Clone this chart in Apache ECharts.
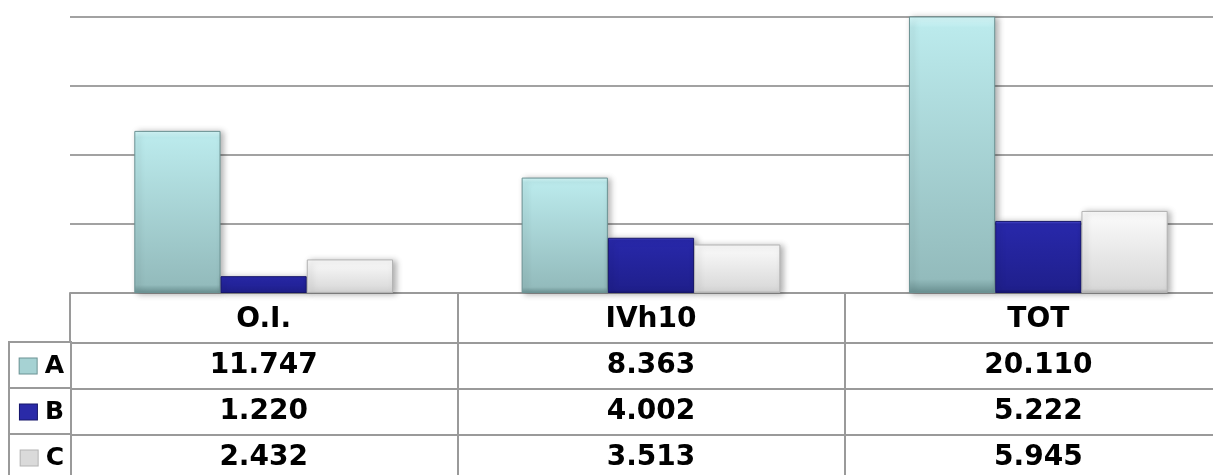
<!DOCTYPE html>
<html>
<head>
<meta charset="utf-8">
<script src="https://cdn.jsdelivr.net/npm/echarts@6/dist/echarts.min.js"></script>
<style>
    html, body { margin: 0; padding: 0; background: #fff; }
    #chart { width: 1213px; height: 475px; }
</style>
</head>
<body>
<div id="chart"></div>
<script>
const categories = ["O.I.", "IVh10", "TOT"];
const seriesNames = ["A", "B", "C"];
const valuesA = [11.747, 8.363, 20.110];
const valuesB = [1.220, 4.002, 5.222];
const valuesC = [2.432, 3.513, 5.945];
const yTicks = [0, 5, 10, 15, 20];

const values = [valuesA, valuesB, valuesC];
const font = "'DejaVu Sans', Verdana, sans-serif";
const lineColor = "#9a9a9a";

// bevel-ish look of the office 3D bars
const looks = {
    A: { top: "#d8fbfc", mid: "#bbeaec", bottom: "#93bbbc", border: "#6b9293", key: "#a6d2d3" },
    B: { top: "#5656dc", mid: "#2828aa", bottom: "#1f1f8c", border: "#16166a", key: "#2a2aa8" },
    C: { top: "#ffffff", mid: "#fafafa", bottom: "#d8d8d8", border: "#b3b3b3", key: "#dadada" }
};

function gradient(look) {
    return new echarts.graphic.LinearGradient(0, 0, 0, 1, [
        { offset: 0, color: look.top },
        { offset: 0.04, color: look.mid },
        { offset: 0.95, color: look.bottom },
        { offset: 1, color: look.border }
    ]);
}

function barSeries() {
    return seriesNames.map((name, i) => {
        const look = looks[name];

        return {
            name: name,
            type: "bar",
            xAxisIndex: 0,
            yAxisIndex: 0,
            data: values[i],
            barGap: "0%",
            barCategoryGap: "33.2%",
            clip: true,
            itemStyle: {
                color: gradient(look),
                borderColor: look.border,
                borderWidth: 1,
                shadowBlur: 6,
                shadowOffsetX: 3,
                shadowOffsetY: 1,
                shadowColor: "rgba(0,0,0,0.3)"
            }
        };
    });
}

function tableSeries() {
    const cells = [];

    seriesNames.forEach((name, r) => {
        values[r].forEach((v, c) => {
            cells.push([categories[c], name, v]);
        });
    });

    return {
        type: "scatter",
        xAxisIndex: 1,
        yAxisIndex: 1,
        data: cells,
        symbolSize: 1,
        silent: true,
        itemStyle: { color: "rgba(0,0,0,0)", opacity: 1 },
        label: {
            show: true,
            position: "inside",
            color: "#000",
            fontFamily: font,
            fontWeight: "bold",
            fontSize: 28,
            formatter: (p) => p.value[2].toFixed(3)
        }
    };
}

function legendRich() {
    const rich = {
        gap: { width: 8 },
        name: { fontFamily: font, fontWeight: "bold", fontSize: 25, color: "#000" }
    };

    seriesNames.forEach(name => {
        rich["key" + name] = {
            width: 17,
            height: 15,
            backgroundColor: looks[name].key,
            borderColor: looks[name].border,
            borderWidth: 1
        };
    });

    return rich;
}

const chart = echarts.init(document.getElementById("chart"));

// the plot is a bit wider than the window, last column runs off the right edge
const option = {
    animation: false,
    backgroundColor: "#fff",
    grid: [
        { left: 70, width: 1162, top: 17, height: 276, outerBoundsMode: "none" },
        { left: 70, width: 1162, top: 343, height: 138, outerBoundsMode: "none" }
    ],
    xAxis: [
        {
            type: "category",
            gridIndex: 0,
            data: categories,
            axisLine: { show: true, lineStyle: { color: lineColor, width: 2 } },
            axisTick: { show: true, length: 50, lineStyle: { color: lineColor, width: 2 } },
            axisLabel: {
                margin: 2,
                lineHeight: 50,
                color: "#000",
                fontFamily: font,
                fontWeight: "bold",
                fontSize: 28
            }
        },
        {
            type: "category",
            gridIndex: 1,
            data: categories,
            axisLine: { show: false },
            axisTick: { show: false },
            axisLabel: { show: false },
            splitLine: { show: true, lineStyle: { color: lineColor, width: 2 } }
        }
    ],
    yAxis: [
        {
            type: "value",
            gridIndex: 0,
            min: yTicks[0],
            max: yTicks[yTicks.length - 1],
            interval: yTicks[1] - yTicks[0],
            axisLine: { show: false },
            axisTick: { show: false },
            axisLabel: { show: false },
            splitLine: { lineStyle: { color: "#a2a2a2", width: 2 } }
        },
        {
            type: "category",
            gridIndex: 1,
            inverse: true,
            data: seriesNames,
            axisLine: { show: false },
            axisTick: { show: false },
            splitLine: { show: true, interval: 0, lineStyle: { color: lineColor, width: 2 } },
            axisLabel: {
                interval: 0,
                hideOverlap: false,
                margin: 0,
                width: 54,
                height: 46,
                lineHeight: 46,
                padding: [0, 6, 0, 0],
                backgroundColor: "#fff",
                borderColor: lineColor,
                borderWidth: 2,
                formatter: (v) => `{key${v}|}{gap|}{name|${v}}`,
                rich: legendRich()
            }
        }
    ],
    series: [ ...barSeries(), tableSeries() ]
};

chart.setOption(option);
</script>
</body>
</html>
